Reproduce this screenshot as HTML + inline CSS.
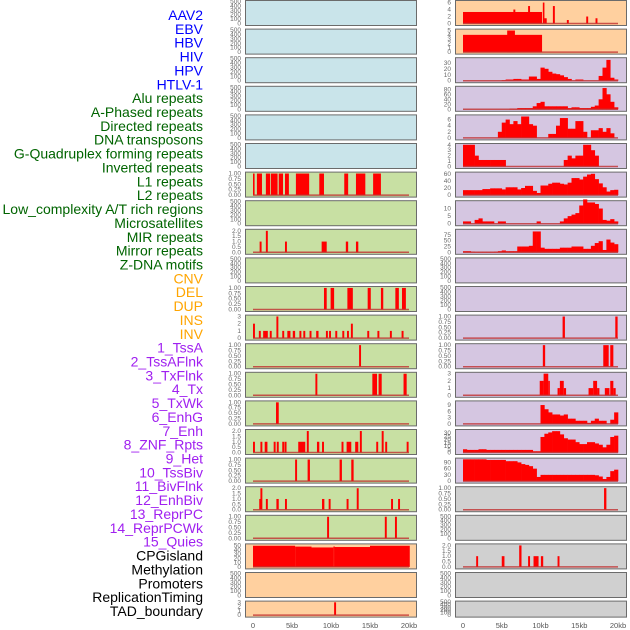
<!DOCTYPE html>
<html><head><meta charset="utf-8">
<style>
html,body{margin:0;padding:0;background:#fff;}
svg{display:block;font-family:"Liberation Sans",sans-serif;}
</style></head>
<body>
<svg id="chart" width="630" height="630" viewBox="0 0 630 630" xmlns="http://www.w3.org/2000/svg"></svg>
<script>
// ---------- labels ----------
const trackLabels = ["AAV2","EBV","HBV","HIV","HPV","HTLV-1","Alu repeats","A-Phased repeats","Directed repeats","DNA transposons","G-Quadruplex forming repeats","Inverted repeats","L1 repeats","L2 repeats","Low_complexity A/T rich regions","Microsatellites","MIR repeats","Mirror repeats","Z-DNA motifs","CNV","DEL","DUP","INS","INV","1_TssA","2_TssAFlnk","3_TxFlnk","4_Tx","5_TxWk","6_EnhG","7_Enh","8_ZNF_Rpts","9_Het","10_TssBiv","11_BivFlnk","12_EnhBiv","13_ReprPC","14_ReprPCWk","15_Quies","CPGisland","Methylation","Promoters","ReplicationTiming","TAD_boundary"];
const labelGroups = [6,13,5,15,5];
const groupColors = ["#0000ff","#006400","#ffa500","#a020f0","#000000"];
const xTicks = [0,5,10,15,20];
const xTickLabels = ["0","5kb","10kb","15kb","20kb"];

// ---------- column 1 data (segments [startKb,endKb,value]) ----------
const c1_L1 = [[0,0.15,1],[0.5,1.15,1],[1.65,2.2,1],[2.3,3.15,1],[3.3,3.85,1],[4.1,4.6,1],[5.5,7.2,1],[8.5,9.1,1],[11.7,12.2,1],[13.2,14.4,1],[15.4,16.4,1]];
const c1_MIR = [[0.85,1.1,1],[1.65,1.9,2],[4.1,4.35,1],[8.8,9.45,1],[11.9,12.2,1],[13.2,13.5,1]];
const c1_DEL = [[9.1,9.45,1],[9.95,10.4,1],[12.1,12.8,1],[14.7,15.1,1],[16.4,16.7,1],[18.25,18.7,1],[19.1,19.6,1]];
const c1_INS = [[0,0.25,2],[0.75,1.0,1],[1.3,1.9,1],[2.15,2.4,1],[3.0,3.25,3],[3.75,4.0,1],[4.4,4.8,1],[5.1,5.4,1],[5.95,6.2,1],[6.45,6.7,1],[7.25,7.5,1],[8.1,8.4,1],[9.35,9.6,1],[9.75,10.0,1],[10.55,10.8,1],[11.45,11.7,1],[12.05,12.3,1],[12.55,12.8,2],[14.65,14.9,1],[15.95,16.2,1],[17.55,17.8,1],[19.05,19.3,1]];
const c1_TssA = [[13.6,13.85,1]];
const c1_TssAFlnk = [[8.0,8.25,1],[15.3,15.9,1],[16.1,16.5,1],[19.3,19.7,1]];
const c1_TxFlnk = [[2.95,3.3,1]];
const c1_Tx = [[0,0.25,1],[0.95,1.2,1],[1.5,1.85,1],[2.65,2.9,1],[3.05,3.3,1],[3.75,4.0,1],[4.05,4.3,1],[5.8,6.7,1],[6.9,7.15,2],[8.2,8.5,1],[8.85,9.1,1],[11.35,11.6,1],[12.0,12.6,1],[13.1,13.5,1],[13.7,13.95,2],[15.8,16.05,1],[16.5,16.75,2],[16.95,17.2,1],[19.7,19.95,1]];
const c1_TxWk = [[5.4,5.65,1],[7.0,7.3,1],[11.1,11.4,1],[12.6,12.9,1]];
const c1_EnhG = [[0.8,0.95,1],[0.95,1.2,2],[1.65,1.9,1],[3.0,3.3,1],[4.1,4.35,1],[8.85,9.15,1],[9.7,9.95,1],[12.0,12.25,1],[13.3,13.55,2],[17.7,17.95,1],[18.6,18.85,1]];
const c1_Het = [[9.5,9.75,1],[16.9,17.15,1],[18.2,18.45,1]];
const c1_CPG = [[0,5.4,50],[5.4,7.5,48],[7.5,10.3,46],[10.3,10.5,48],[10.5,15,47],[15,20.1,50]];
const c1_TAD = [[10.4,10.65,3]];

// ---------- column 2 data (0.5kb bins, 40 per track) ----------
const c2_HPV = [0,0,0,0,0,0,0,0,0,0,1,2,2,3,3,2,2,7,7,3,22,20,15,12,11,9,6,3,0,2,2,0,0,0,0,8,22,35,5,2];
const c2_Alu = [0,0,0,0,0,0,0,0,0,0,0,0,3,3,5,5,5,5,12,25,30,12,12,12,12,12,12,5,8,8,5,5,5,10,15,40,85,60,30,8];
const c2_Directed = [0,0,0,0,0,0,0,0,0,2,5,6,4.5,5.5,4.5,7,7,4.5,4,0,0,0,1.3,1.3,4,6.5,6.5,3,3,5.5,5.5,2,0,2.5,2.5,3.2,2,3.2,1.5,0];
const c2_DNA = [4,4,4,2,1.2,1.2,1.2,1.2,1.2,1.2,1.2,0,0,0,0,0,0,0,0,0,0,0,0,0,0,0,1.2,2,1.5,2,2,4,4,3,2,0,0,0,0,0];
const c2_G4 = [14,14,14,14,14,17,17,19,19,19,16,22,22,22,16,20,26,26,12,6,27,27,32,35,35,32,30,35,48,48,44,52,58,60,45,33,22,10,14,15];
const c2_Inverted = [1.5,1.5,0,2.5,3.5,1.5,1.5,1.5,0,1.5,1.5,0,0,0,0,0,0,0,0,1.5,0,0,0,0,0,1.5,3.5,5,6,7,12,16,14,14,13,10,2.5,2,3,1.5];
const c2_LowComplex = [5,5,3,2,2,2,2,2,3,5,8,5,5,5,25,25,25,28,90,90,20,15,15,15,15,20,20,20,25,25,25,15,15,28,40,48,10,55,42,35];
const c2_Enh = [0,0,0,0,0,0,0,0,0,0,0,0,0,0,0,0,0,0,0,0,9,7,5.5,4.5,4.5,4,4.5,2.5,2.5,1.5,1.5,1.5,0.5,1.5,2.5,1.5,1.5,0,2,5.5];
const c2_ZNF = [5,4,4,4,5,5,4,4,4,4,4,4,4,4,4,4,4,4,2,2,24,29,31,33,33,28,22,20,20,16,13,13,16,16,14,12,8,12,24,26];
const c2_TssBiv = [105,105,105,105,105,105,102,102,102,102,102,96,96,96,90,82,78,72,60,20,30,30,30,30,30,30,30,30,30,30,30,30,30,30,28,22,10,20,48,55];
// ---------- column 2 sparse data (segments) ----------
const c2_AAV2 = [[0,10.2,3.3],[6.5,6.75,4],[8.4,8.65,5],[10.3,10.5,6],[10.5,10.8,1.5],[11.6,11.85,5],[13.4,13.65,1],[15.9,16.15,2],[17.1,17.35,1.5]];
const c2_EBV = [[0,10.2,4],[5.7,6.7,5]];
const c2_INS = [[12.85,13.15,1],[19.65,19.95,1]];
const c2_TssA = [[10.3,10.6,1],[18.1,18.8,1],[19.0,19.4,1]];
const c2_TssAFlnk = [[9.9,10.4,2],[10.4,11.0,3],[11.0,11.2,2],[12.2,12.5,1],[12.5,13.0,2],[13.0,13.3,1],[16.2,16.8,1],[16.8,17.3,2],[17.3,17.6,1],[18.3,18.9,1],[19.0,19.4,2],[19.4,19.7,1]];
const c2_Quies = [[18.2,18.5,1]];
const c2_Methyl = [[1.7,1.95,1],[5.0,5.35,1],[7.25,7.55,2],[8.4,8.65,1],[9.1,9.75,1],[10.05,10.35,1],[12.2,12.45,1]];

// ---------- rendering ----------
const svg = document.getElementById('chart');
const NS = 'http://www.w3.org/2000/svg';
function mk(tag, attrs, parent){const e=document.createElementNS(NS,tag);for(const k in attrs)e.setAttribute(k,attrs[k]);(parent||svg).appendChild(e);return e;}

const BG = {blue:'#c9e4ea',green:'#c8e0a3',orange:'#ffd09f',purple:'#d5c6e1',gray:'#d0d0d0'};
const T500 = {max:500,ticks:[0,100,200,300,400,500],fmt:0};
const T1 = {max:1.02,ticks:[0,0.25,0.5,0.75,1],fmt:2};
const T2 = {max:2.05,ticks:[0,0.5,1,1.5,2],fmt:1};
const T3 = {max:3.05,ticks:[0,1,2,3],fmt:0};
function T(max,ticks,fmt){return {max:max,ticks:ticks,fmt:fmt||0};}

const col1 = [
 ['blue',T500,null,'aav2-hbv-left'],['blue',T500,null,'hiv-left'],['blue',T500,null,'hpv-left'],
 ['blue',T500,null,'alu-left'],['blue',T500,null,'directed-left'],['blue',T500,null,'g4-left'],
 ['green',T1,c1_L1,'l1-left'],['green',T500,null,'lowcomplex-left'],['green',T2,c1_MIR,'mir-left'],
 ['green',T500,null,'zdna-left'],['green',T1,c1_DEL,'del-left'],['green',T3,c1_INS,'ins-left'],
 ['green',T1,c1_TssA,'tssa-left'],['green',T1,c1_TssAFlnk,'tssaflnk-left'],['green',T1,c1_TxFlnk,'txflnk-left'],
 ['green',T2,c1_Tx,'tx-left'],['green',T1,c1_TxWk,'txwk-left'],['green',T2,c1_EnhG,'enhg-left'],
 ['green',T1,c1_Het,'het-left'],['orange',T(52,[0,10,20,30,40,50]),c1_CPG,'cpgisland-left'],
 ['orange',T500,null,'promoters-left'],['orange',T3,c1_TAD,'tad-boundary-left']
];
const col2 = [
 ['orange',T(6.3,[0,2,4,6]),c2_AAV2,'aav2-right'],['orange',T(5.1,[0,1,2,3,4,5]),c2_EBV,'ebv-right'],
 ['purple',T(37,[0,10,20,30]),c2_HPV,'hpv-right'],['purple',T(88,[0,20,40,60,80]),c2_Alu,'alu-right'],
 ['purple',T(7.2,[0,2,4,6]),c2_Directed,'directed-right'],['purple',T(4.05,[0,1,2,3,4]),c2_DNA,'dna-transposons-right'],
 ['purple',T(62,[0,20,40,60]),c2_G4,'g4-right'],['purple',T(14.5,[0,5,10]),c2_Inverted,'inverted-right'],
 ['purple',T(95,[0,25,50,75]),c2_LowComplex,'lowcomplex-right'],['purple',T500,null,'microsat-right'],
 ['purple',T500,null,'zdna-right'],['purple',T1,c2_INS,'ins-right'],
 ['purple',T1,c2_TssA,'tssa-right'],['purple',T3,c2_TssAFlnk,'tssaflnk-right'],
 ['purple',T(10.5,[0,3,6,9]),c2_Enh,'enh-right'],['purple',T(34,[0,5,10,15,20,25,30]),c2_ZNF,'znf-right'],
 ['purple',T(106,[0,30,60,90]),c2_TssBiv,'tssbiv-right'],['gray',T1,c2_Quies,'quies-right'],
 ['gray',T500,null,'cpg-right'],['gray',T2,c2_Methyl,'methylation-right'],
 ['gray',T500,null,'replication-right'],['gray',T500,null,'tad-right']
];

// left labels
let li = 0;
labelGroups.forEach((n,g)=>{
  for(let k=0;k<n;k++){
    const t = mk('text',{x:203,y:(15+li*13.86+5).toFixed(1),'text-anchor':'end','font-size':'14',fill:groupColors[g]});
    t.textContent = trackLabels[li];
    
    
    li++;
  }
});

function drawPanel(spec,row,colX,x0,xScale,isBins){
  const [bgKey,ax,data,name] = spec;
  const top = row*28.6;
  const h = row===21 ? 16 : 25;
  const g = mk('g',{});
  
  
  mk('rect',{x:colX+1,y:top+1,width:171,height:h,fill:'#e4e4e4'},g);
  mk('rect',{x:colX+0.5,y:top+0.5,width:171,height:h,fill:BG[bgKey],stroke:'#6b6b6b','stroke-width':1},g);
  const y0 = top+h-1.5, yr = h-3;
  const ys = v => y0 - v/ax.max*yr;
  const xs = kb => x0 + kb*xScale;
  ax.ticks.forEach(tv=>{
    const t = mk('text',{x:colX-4,y:(ys(tv)+2).toFixed(1),'text-anchor':'end','font-size':'6.5',fill:'#6a6a6a'},g);
    t.textContent = ax.fmt ? tv.toFixed(ax.fmt) : String(tv);
    
    
  });
  if(!data) return;
  if(isBins && typeof data[0]==='number'){
    data.forEach((v,i)=>{
      if(v<=0) return;
      const r = mk('rect',{x:xs(i*0.5).toFixed(2),y:ys(v).toFixed(2),width:(0.5*xScale+0.3).toFixed(2),height:(y0-ys(v)).toFixed(2),fill:'#ff0000'},g);
      
      
    });
  } else {
    data.forEach(s=>{
      const r = mk('rect',{x:xs(s[0]).toFixed(2),y:ys(s[2]).toFixed(2),width:Math.max(1.6,(s[1]-s[0])*xScale).toFixed(2),height:(y0-ys(s[2])).toFixed(2),fill:'#ff0000'},g);
      
      
    });
  }
  const bl = mk('line',{x1:xs(0),x2:xs(20),y1:y0,y2:y0,stroke:'#c03030','stroke-width':1.5,'stroke-opacity':0.8},g);
  
  
}

col1.forEach((s,i)=>drawPanel(s,i,245,253,7.8,false));
col2.forEach((s,i)=>drawPanel(s,i,455,463,7.75,true));

[[253,7.8],[463,7.75]].forEach(([x0,sc],c)=>{
  xTicks.forEach((kb,i)=>{
    const t = mk('text',{x:x0+kb*sc,y:628,'text-anchor':'middle','font-size':'7.5',fill:'#555'});
    t.textContent = xTickLabels[i];
    
    
  });
});
</script>
</body></html>
